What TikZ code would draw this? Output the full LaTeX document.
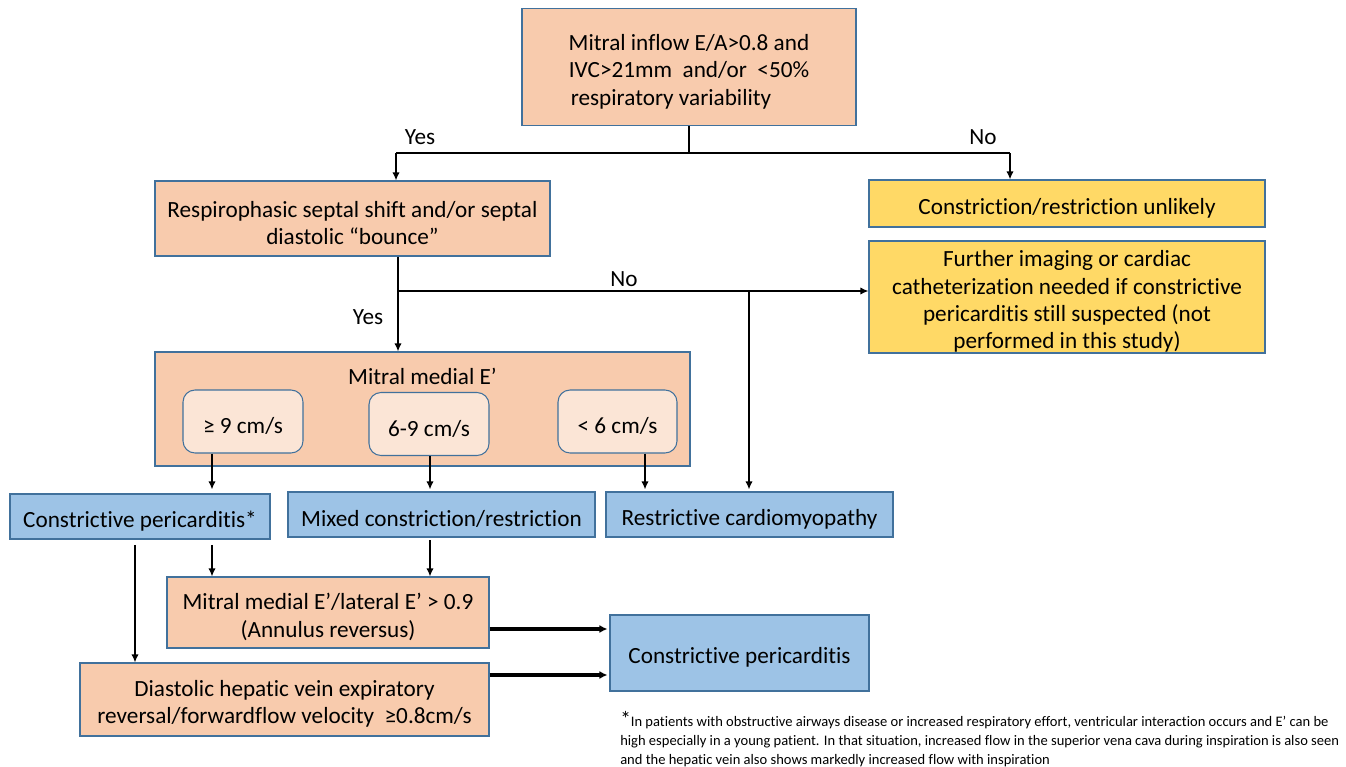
\documentclass[tikz,border=0pt]{standalone}
\usepackage{fontspec}
\setmainfont{Carlito}[Ligatures={NoCommon}]
\usetikzlibrary{arrows.meta,calc}
\definecolor{peach}{HTML}{F8CBAD}
\definecolor{lightpeach}{HTML}{FBE5D6}
\definecolor{skyblue}{HTML}{9DC3E6}
\definecolor{gold}{HTML}{FFD966}
\definecolor{edge}{HTML}{41719C}
\newcommand{\tallstrut}{\rule{0pt}{19pt}}
\tikzset{
  box/.style={draw=edge, line width=0.8pt, align=center, inner sep=2pt,
    font=\fontsize{17.4}{20.5}\selectfont},
  peachbox/.style={box, fill=peach},
  bluebox/.style={box, fill=skyblue},
  goldbox/.style={box, fill=gold},
  subbox/.style={box, fill=lightpeach, rounded corners=9pt},
  lbl/.style={font=\fontsize{17.4}{20.5}\selectfont, inner sep=0pt},
  arr/.style={line width=1.5pt, -{Latex[length=6pt,width=5.5pt]}},
  thickarr/.style={line width=2.4pt, -{Latex[length=6pt,width=6pt]}},
  line/.style={line width=2.2pt},
}
\begin{document}
\begin{tikzpicture}[x=0.75pt,y=-0.75pt]
\useasboundingbox (0,0) rectangle (1346,767);
% nodes
\node[peachbox, minimum width=250.5pt, minimum height=87.75pt] (top) at (689,67)
  {\tallstrut Mitral inflow E/A>0.8 and\\IVC>21mm\ \ and/or\ \ <50\%\\respiratory variability\hspace*{27pt}};
\node[peachbox, minimum width=296.25pt, minimum height=56.25pt] (resp) at (352.5,218.5)
  {\tallstrut Respirophasic septal shift and/or septal\\diastolic “bounce”};
\node[goldbox, minimum width=297pt, minimum height=35.25pt] (unlikely) at (1067,203.5)
  {\tallstrut Constriction/restriction unlikely};
\node[goldbox, inner ysep=0pt, minimum width=297pt, minimum height=84pt] (further) at (1067,297)
  {\tallstrut Further imaging or cardiac\\catheterization needed if constrictive\\pericarditis still suspected (not\\performed in this study)};
\node[peachbox, minimum width=401.25pt, minimum height=85.5pt] (mme) at (422.5,409) {};
\node[lbl] (mmetitle) at (422.5,376) {Mitral medial E’};
\node[subbox, minimum width=90pt, minimum height=47.25pt] (s1) at (243,421.5) {\tallstrut ≥ 9 cm/s};
\node[subbox, minimum width=90pt, minimum height=47.25pt] (s2) at (429,424) {\tallstrut 6-9 cm/s};
\node[subbox, minimum width=89.25pt, minimum height=47.25pt] (s3) at (617.5,421.5) {\tallstrut < 6 cm/s};
\node[bluebox, minimum width=195pt, minimum height=33.75pt] (cps) at (140,516.5) {\tallstrut Constrictive pericarditis*};
\node[bluebox, minimum width=230.25pt, minimum height=33.75pt] (mixed) at (441.5,514.5) {\tallstrut Mixed constriction/restriction};
\node[bluebox, minimum width=215.25pt, minimum height=33.75pt] (rcm) at (749.5,514.5) {\tallstrut Restrictive cardiomyopathy};
\node[peachbox, minimum width=241.5pt, minimum height=53.25pt] (mmel) at (328,612.5)
  {\tallstrut Mitral medial E’/lateral E’ > 0.9\\(Annulus reversus)};
\node[peachbox, minimum width=306.75pt, minimum height=54.75pt] (dhv) at (284.5,699.5)
  {\tallstrut Diastolic hepatic vein expiratory\\reversal/forwardflow velocity\ \ ≥0.8cm/s};
\node[bluebox, minimum width=194.25pt, minimum height=57pt] (cpf) at (739.5,653) {\tallstrut Constrictive pericarditis};
% labels
\node[lbl] (yes1) at (420,137) {Yes};
\node[lbl] (no1) at (983,137) {No};
\node[lbl] (no2) at (624,279) {No};
\node[lbl] (yes2) at (368,317) {Yes};
% footnote
\node[anchor=north west, inner sep=0pt, align=left, font=\fontsize{10.9}{14.2}\selectfont] (foot) at (620,711)
  {{\fontsize{16}{14.2}\selectfont *}In patients with obstructive airways disease or increased respiratory effort, ventricular interaction occurs and E' can be\\
   high especially in a young patient. In that situation, increased flow in the superior vena cava during inspiration is also seen\\
   and the hepatic vein also shows markedly increased flow with inspiration};
% coordinates
\coordinate (j1) at (689,153);
\coordinate (ya) at (396,153);
\coordinate (na) at (1010,153);
\coordinate (b1) at (398,291);
\coordinate (b2) at (749,291);
\coordinate (c1) at (212,0);
\coordinate (c2) at (430,0);
\coordinate (c3) at (645,0);
\coordinate (c4) at (135,0);
\coordinate (h1) at (0,629);
\coordinate (h2) at (0,675);
% connectors
\draw[line] (top.south -| j1) -- (j1);
\draw[line] (ya) -- (na);
\draw[arr] (ya) -- (ya |- resp.north);
\draw[arr] (na) -- (na |- unlikely.north);
\draw[arr] (resp.south -| b1) -- (b1 |- mme.north);
\draw[arr] (b1) -- (b1 -| further.west);
\draw[arr] (b2) -- ([yshift=1.5pt]b2 |- rcm.north);
\draw[arr] (s1.south -| c1) -- ([yshift=3pt]c1 |- cps.north);
\draw[arr] (s2.south -| c2) -- ([yshift=1.5pt]c2 |- mixed.north);
\draw[arr] (s3.south -| c3) -- ([yshift=1.5pt]c3 |- rcm.north);
\draw[arr] ([yshift=-4pt]cps.south -| c4) -- (c4 |- dhv.north);
\draw[arr] ([yshift=-4pt]cps.south -| c1) -- (c1 |- mmel.north);
\draw[arr] ([yshift=-2pt]mixed.south -| c2) -- (c2 |- mmel.north);
\draw[thickarr] (mmel.east |- h1) -- ([xshift=-1.5pt]cpf.west |- h1);
\draw[thickarr] (dhv.east |- h2) -- ([xshift=-1.5pt]cpf.west |- h2);
\end{tikzpicture}
\end{document}
